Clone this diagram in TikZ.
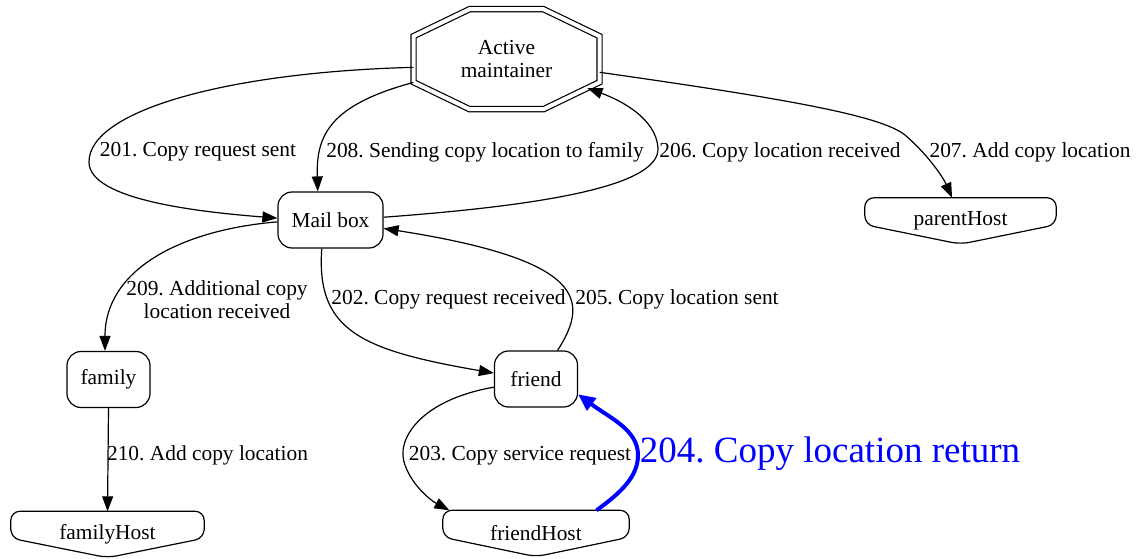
\documentclass[tikz,border=0pt]{standalone}
\usepackage{fontspec}
\setmainfont{Liberation Serif}
\usetikzlibrary{arrows.meta,calc}

\begin{document}
\frenchspacing
\begin{tikzpicture}[x=1pt,y=-1pt,
  every node/.style={font=\fontsize{21.4}{23}\selectfont},
  oct/.style={rectangle,align=center,inner sep=0pt,minimum width=186pt,minimum height=100pt},
  state/.style={rectangle,draw,rounded corners=14pt,line width=1.2pt,minimum width=83pt,minimum height=56pt,inner sep=0pt},
  host/.style={rectangle,minimum height=46pt,inner sep=0pt},
  lbl/.style={inner sep=1pt,align=center},
  line/.style={line width=1.2pt,-{Triangle[length=15pt,width=11pt]}},
  ret/.style={line width=4pt,blue,-{Triangle[length=17pt,width=15pt]}}]
\useasboundingbox (0,0) rectangle (1140,559);

\node[oct] (am) at (506.5,59.2) {Active\\maintainer};
\node[state,minimum width=105pt] (mb) at (330.5,220) {Mail box};
\node[state] (fam) at (108.5,379.5) {family};
\node[state] (fr) at (536,379) {friend};
\node[host,minimum width=191pt] (ph) at (960.5,221) {parentHost};
\node[host,minimum width=193pt] (famh) at (107.5,534.5) {familyHost};
\node[host,minimum width=186pt] (frh) at (536,533.5) {friendHost};

% double octagon round the maintainer
\draw[line width=1.2pt,double,double distance=4pt]
  ([shift={(-93,-23)}]am.center) -- ([shift={(-37,-50)}]am.center) -- ([shift={(37,-50)}]am.center)
  -- ([shift={(93,-23)}]am.center) -- ([shift={(93,23)}]am.center) -- ([shift={(37,50)}]am.center)
  -- ([shift={(-37,50)}]am.center) -- ([shift={(-93,23)}]am.center) -- cycle;
% host outlines (point at the bottom)
\foreach \h in {ph,famh,frh}
  \draw[line width=1.2pt,rounded corners=9pt] (\h.south) -- ($(\h.north west)!0.58!(\h.south west)$)
    -- (\h.north west) -- (\h.north east) -- ($(\h.north east)!0.58!(\h.south east)$) -- cycle;

\draw[line] (am.185) .. controls (230,72) and (89,110) .. (89,162)
  .. controls (89,200) and (200,212) .. (mb.178);
\draw[line] (am.194) .. controls (330,105) and (316,135) .. (mb.114);
\draw[line] (mb.3) .. controls (550,205) and (660,185) .. (658,148)
  .. controls (656,118) and (620,100) .. ([shift={(81,29)}]am.center);
\draw[line] (am.-8) .. controls (780,98) and (880,115) .. (905,135)
  .. controls (925,152) and (942,175) .. (ph.110);
\draw[line] (mb.182) .. controls (180,230) and (105,270) .. (fam.97);
\draw[line] (mb.253) .. controls (316,330) and (360,350) .. (fr.172);
\draw[line] (fr.53) .. controls (590,300) and (585,260) .. (mb.351);
\draw[line] (fam.south) -- (famh.north);
\draw[line] (fr.191) .. controls (420,400) and (395,440) .. (405,465)
  .. controls (412,485) and (430,500) .. (frh.165);
\draw[ret] (frh.21) .. controls (622,492) and (638,476) .. (638,455)
  .. controls (638,430) and (610,418) .. (fr.-20);

\node[lbl] (l201) at (198,152) {201. Copy request sent};
\node[lbl] (l208) at (485,152) {208. Sending copy location to family};
\node[lbl] (l206) at (780,152) {206. Copy location received};
\node[lbl] (l207) at (1030,152) {207. Add copy location};
\node[lbl] (l209) at (217,300) {209. Additional copy\\location received};
\node[lbl] (l202) at (448.5,299) {202. Copy request received};
\node[lbl] (l205) at (677,299) {205. Copy location sent};
\node[lbl] (l210) at (207.5,455) {210. Add copy location};
\node[lbl] (l203) at (520,456) {203. Copy service request};
\node[lbl,text=blue,font=\fontsize{37}{40}\selectfont] (l204) at (830,454) {204. Copy location return};
\end{tikzpicture}
\end{document}
